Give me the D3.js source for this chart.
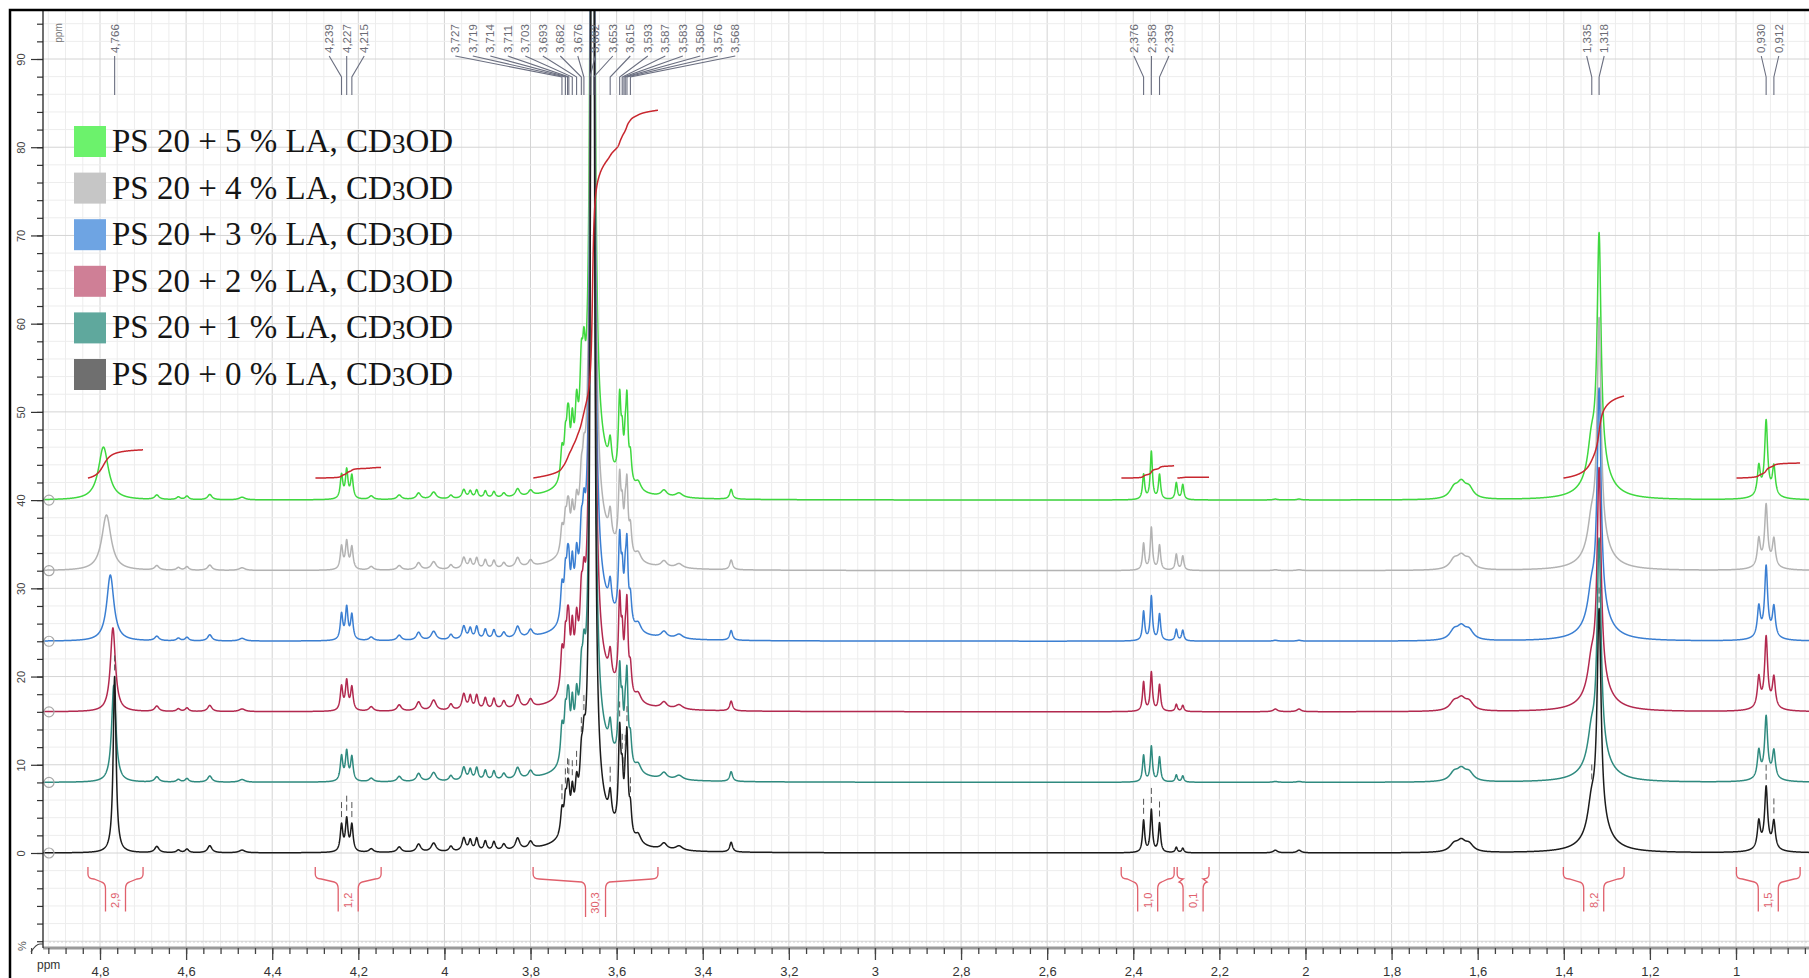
<!DOCTYPE html>
<html>
<head>
<meta charset="utf-8">
<script src="https://cdn.jsdelivr.net/npm/d3@7"></script>
<style>
  html, body { margin: 0; padding: 0; background: #fff; }
  svg { display: block; }
</style>
</head>
<body>
<div id="chart"></div>
<script>
const W = 1809, H = 978;

// ---- data ----
// series order: 0 %, 1 %, 2 %, 3 %, 4 %, 5 % LA
const seriesLA = [0, 1, 2, 3, 4, 5];
const seriesOffsets = [0, 8, 16, 24, 32, 40];

// exchangeable OH signal, moves downfield and broadens with LA
const ohPpm = [4.766, 4.768, 4.770, 4.776, 4.785, 4.792];
const ohHeight = [20, 11, 9.5, 7.5, 6.3, 6];
const ohWidth = [0.004, 0.006, 0.007, 0.010, 0.013, 0.014];

// shared signals: position (ppm), half width (ppm), height per series
const peakPpm = [
  4.668, 4.618, 4.598, 4.545, 4.470,
  4.239, 4.227, 4.215,
  4.170, 4.105, 4.060, 4.025, 3.985, 3.955, 3.940, 3.925, 3.905, 3.885, 3.862, 3.830, 3.800,
  3.727, 3.719, 3.714, 3.711, 3.703, 3.693, 3.682, 3.676,
  3.655, 3.656,
  3.615, 3.593, 3.587, 3.580, 3.576, 3.568, 3.550, 3.490, 3.455, 3.334,
  2.376, 2.358, 2.339, 2.300, 2.285, 2.070, 2.015,
  1.655, 1.638, 1.620,
  1.320, 1.336, 1.318,
  0.947, 0.930, 0.912, 0.930
];
const peakWidth = [
  0.006, 0.005, 0.005, 0.006, 0.008,
  0.0035, 0.0035, 0.0035,
  0.006, 0.006, 0.006, 0.007, 0.005, 0.005, 0.004, 0.004, 0.004, 0.004, 0.005, 0.006, 0.006,
  0.004, 0.0035, 0.003, 0.003, 0.0035, 0.004, 0.004, 0.004,
  0.040, 0.003,
  0.004, 0.0035, 0.003, 0.003, 0.003, 0.0035, 0.008, 0.008, 0.010, 0.004,
  0.003, 0.003, 0.003, 0.003, 0.003, 0.006, 0.006,
  0.012, 0.012, 0.012,
  0.030, 0.010, 0.0055,
  0.004, 0.004, 0.004, 0.020
];
const peakHeights = [
  [0.7, 0.6, 0.6, 0.5, 0.5, 0.5],
  [0.3, 0.3, 0.3, 0.3, 0.3, 0.3],
  [0.4, 0.4, 0.4, 0.4, 0.4, 0.4],
  [0.8, 0.7, 0.7, 0.7, 0.6, 0.6],
  [0.3, 0.3, 0.3, 0.3, 0.3, 0.3],
  [3.0, 2.8, 2.7, 2.9, 2.6, 2.7],
  [3.6, 3.3, 3.3, 3.6, 3.1, 3.2],
  [3.0, 2.7, 2.6, 2.8, 2.5, 2.6],
  [0.4, 0.4, 0.5, 0.4, 0.4, 0.4],
  [0.6, 0.6, 0.7, 0.6, 0.5, 0.5],
  [0.9, 0.9, 1.0, 0.9, 0.8, 0.7],
  [1.0, 1.0, 1.2, 1.0, 0.9, 0.8],
  [0.6, 0.6, 0.7, 0.6, 0.5, 0.4],
  [1.5, 1.5, 1.8, 1.5, 1.3, 1.0],
  [1.2, 1.2, 1.5, 1.2, 1.0, 0.8],
  [1.4, 1.4, 1.6, 1.4, 1.2, 0.9],
  [1.1, 1.1, 1.3, 1.1, 1.0, 0.8],
  [1.0, 1.0, 1.2, 1.0, 0.9, 0.7],
  [0.7, 0.7, 0.9, 0.7, 0.6, 0.5],
  [1.3, 1.3, 1.5, 1.3, 1.1, 0.9],
  [0.8, 0.8, 0.9, 0.8, 0.7, 0.6],
  [2.8, 4.0, 4.5, 4.0, 2.8, 3.5],
  [3.2, 4.5, 5.0, 4.5, 3.2, 4.0],
  [2.8, 4.0, 4.5, 4.0, 2.8, 4.0],
  [2.8, 4.0, 4.5, 4.0, 2.8, 4.0],
  [3.5, 5.0, 5.5, 5.0, 3.5, 5.0],
  [3.5, 5.0, 5.5, 5.0, 3.5, 6.0],
  [4.2, 5.5, 6.0, 5.5, 4.2, 8.0],
  [4.2, 5.5, 5.5, 5.5, 4.2, 7.0],
  [5, 5, 5, 5, 5, 5],
  [260, 260, 260, 260, 260, 260],
  [3.0, 3.0, 3.0, 3.0, 3.0, 3.0],
  [11, 10, 10, 9.0, 8.0, 9.0],
  [5.0, 5.0, 5.0, 4.5, 4.0, 4.0],
  [4.0, 4.0, 4.0, 4.0, 3.5, 3.5],
  [10, 9.0, 9.0, 8.0, 7.0, 8.5],
  [3.0, 3.0, 3.0, 3.0, 3.0, 3.0],
  [1.0, 1.0, 1.0, 1.0, 1.0, 1.0],
  [0.7, 0.7, 0.7, 0.7, 0.7, 0.7],
  [0.5, 0.5, 0.5, 0.5, 0.5, 0.5],
  [1.1, 1.1, 1.1, 1.1, 1.1, 1.1],
  [3.6, 3.0, 3.3, 3.3, 3.0, 2.8],
  [4.8, 4.0, 4.4, 5.0, 4.8, 5.4],
  [3.3, 2.8, 3.0, 3.0, 2.8, 2.8],
  [0.6, 0.8, 0.8, 1.3, 1.8, 1.9],
  [0.5, 0.7, 0.7, 1.2, 1.6, 1.7],
  [0.3, 0.1, 0.3, 0.1, 0.1, 0.1],
  [0.3, 0.1, 0.3, 0.1, 0.1, 0.1],
  [0.8, 0.9, 0.9, 1.0, 1.0, 1.1],
  [1.1, 1.2, 1.2, 1.3, 1.3, 1.6],
  [0.8, 0.9, 0.9, 1.0, 1.0, 1.1],
  [3.0, 3.0, 3.0, 3.0, 3.0, 3.5],
  [3.0, 3.0, 3.0, 3.0, 3.0, 3.5],
  [24, 24, 24, 25, 25, 26],
  [3.0, 3.0, 3.3, 3.3, 3.0, 3.2],
  [6.5, 6.5, 7.5, 7.5, 6.5, 8.0],
  [3.0, 3.0, 3.3, 3.3, 3.0, 3.2],
  [0.8, 0.8, 0.8, 0.8, 0.8, 0.8]
];

// picked peaks printed at the top
const peakLabelGroups = [
  [4.766],
  [4.239, 4.227, 4.215],
  [3.727, 3.719, 3.714, 3.711, 3.703, 3.693, 3.682, 3.676, 3.662, 3.653,
   3.615, 3.593, 3.587, 3.583, 3.580, 3.576, 3.568],
  [2.376, 2.358, 2.339],
  [1.335, 1.318],
  [0.930, 0.912]
];

// integrals (drawn on the 5 % trace) and their bracket values
const integralFrom = [4.828, 4.300, 3.794, 2.428, 2.298, 1.401, 0.999];
const integralTo = [4.700, 4.147, 3.504, 2.305, 2.224, 1.260, 0.851];
const integralValues = [2.9, 1.2, 30.3, 1.0, 0.1, 8.2, 1.5];
const integralStart = [42.5, 42.5, 42.5, 42.5, 42.5, 42.5, 42.5];
const integralEnd = [45.7, 43.7, 84.2, 43.9, 42.6, 51.8, 44.2];

const xTickValues = [4.8, 4.6, 4.4, 4.2, 4, 3.8, 3.6, 3.4, 3.2, 3, 2.8, 2.6, 2.4, 2.2, 2, 1.8, 1.6, 1.4, 1.2, 1, 0.8];
const yTickValues = [0, 10, 20, 30, 40, 50, 60, 70, 80, 90];

// ---- styles ----
const lineColors = ['#1c1c1c', '#2f8a7f', '#b2294f', '#3b7fd2', '#b3b3b3', '#3fd83f'];
const swatchColors = ['#6f6f6f', '#5fa89d', '#cf7f96', '#6ea4e3', '#c6c6c6', '#6cf26c'];
const integralColor = '#c8262e';
const bracketColor = '#e0606c';
const fmt = v => String(v).replace('.', ',');
const fmt3 = v => v.toFixed(3).replace('.', ',');
const fmt1 = v => v.toFixed(1).replace('.', ',');

const plotLeft = 43, plotTop = 10, axisY = 948;

const x = d3.scaleLinear().domain([4.8, 1.0]).range([100, 1736]);
const y = d3.scaleLinear().domain([0, 90]).range([853, 59]);

const svg = d3.select('#chart')
  .append('svg')
  .attr('width', W)
  .attr('height', H)
  .style('font-family', '"Liberation Sans", Arial, sans-serif');

svg.append('defs').append('clipPath')
  .attr('id', 'plot-clip')
  .append('rect')
  .attr('x', plotLeft)
  .attr('y', plotTop)
  .attr('width', W - plotLeft)
  .attr('height', axisY - plotTop);

// grid
const grid = svg.append('g').attr('clip-path', 'url(#plot-clip)');
const minorX = d3.range(80, 500, 4).map(k => k / 100);
const minorY = d3.range(-12, 100, 2);
grid.selectAll('.gx').data(minorX).join('line')
  .attr('x1', d => x(d)).attr('x2', d => x(d))
  .attr('y1', plotTop).attr('y2', axisY)
  .attr('stroke', d => Math.abs(d * 5 - Math.round(d * 5)) < 1e-6 ? '#d4d4d4' : '#ededed')
  .attr('stroke-width', 1);
grid.selectAll('.gy').data(minorY).join('line')
  .attr('x1', plotLeft).attr('x2', W)
  .attr('y1', d => y(d)).attr('y2', d => y(d))
  .attr('stroke', d => d % 10 === 0 ? '#d4d4d4' : '#ededed')
  .attr('stroke-width', 1);

// spectra
function lorentz(p, c, h, w) {
  const d = p - c;
  return h * w * w / (d * d + w * w);
}
function intensity(p, s) {
  let v = lorentz(p, ohPpm[s], ohHeight[s], ohWidth[s]);
  for (let k = 0; k < peakPpm.length; k++) {
    v += lorentz(p, peakPpm[k], peakHeights[k][s], peakWidth[k]);
  }
  return v;
}
const ppmGrid = d3.range(0, 10501).map(j => 4.98 - j * 0.0004);

const spectra = seriesLA.map((la, s) =>
  ppmGrid.map(p => [p, intensity(p, s) + seriesOffsets[s]]));

const line = d3.line().x(d => x(d[0])).y(d => y(d[1]));

const specG = svg.append('g').attr('clip-path', 'url(#plot-clip)');
[5, 4, 3, 2, 1, 0].forEach(s => {
  specG.append('path')
    .datum(spectra[s])
    .attr('d', line)
    .attr('fill', 'none')
    .attr('stroke', lineColors[s])
    .attr('stroke-width', 1.5)
    .attr('stroke-linejoin', 'round');
});

// baseline markers
svg.selectAll('.base-mark').data(seriesOffsets).join('circle')
  .attr('cx', 49).attr('cy', d => y(d)).attr('r', 5)
  .attr('fill', 'none').attr('stroke', '#a8a8a8').attr('stroke-width', 1.2);

// integral curves on the 5 % trace
const integralG = svg.append('g').attr('clip-path', 'url(#plot-clip)');
integralFrom.forEach((a, i) => {
  const b = integralTo[i];
  const pts = ppmGrid.filter(p => p <= a && p >= b);
  let acc = 0;
  const cum = pts.map((p, j) => {
    if (j > 0) acc += intensity(p, 5) + intensity(pts[j - 1], 5);
    return acc;
  });
  const total = acc || 1;
  const data = pts.map((p, j) => [p, integralStart[i] + (integralEnd[i] - integralStart[i]) * cum[j] / total]);
  integralG.append('path')
    .datum(data)
    .attr('d', line)
    .attr('fill', 'none')
    .attr('stroke', integralColor)
    .attr('stroke-width', 1.5);
});

// integral brackets under the spectra
const bracketG = svg.append('g');
integralFrom.forEach((a, i) => {
  const x1 = x(a), x2 = x(integralTo[i]);
  const xm = (x1 + x2) / 2;
  const label = fmt1(integralValues[i]);
  const stemBottom = 891 + label.length * 5.5 + 4;
  const path = `M${x1},867 V874 Q${x1},879 ${x1 + 6},879 L${xm - 14},882 Q${xm - 10},883 ${xm - 10},889 V${stemBottom}`
    + ` M${x2},867 V874 Q${x2},879 ${x2 - 6},879 L${xm + 14},882 Q${xm + 10},883 ${xm + 10},889 V${stemBottom}`;
  bracketG.append('path')
    .attr('d', path)
    .attr('fill', 'none')
    .attr('stroke', bracketColor)
    .attr('stroke-width', 1.3);
  bracketG.append('text')
    .attr('transform', `translate(${xm},${(889 + stemBottom) / 2}) rotate(-90)`)
    .attr('text-anchor', 'middle')
    .attr('dy', '0.35em')
    .attr('font-size', 11)
    .attr('fill', bracketColor)
    .text(label);
});

// peak labels at the top
const labelG = svg.append('g');
const labelStep = 17.5;
peakLabelGroups.forEach(group => {
  const cx = d3.mean(group, p => x(p));
  group.forEach((p, j) => {
    const lx = cx + (j - (group.length - 1) / 2) * labelStep;
    const px = x(p);
    labelG.append('text')
      .attr('transform', `translate(${lx},53) rotate(-90)`)
      .attr('dy', '0.35em')
      .attr('font-size', 11.5)
      .attr('fill', '#6b6b74')
      .text(fmt3(p));
    labelG.append('path')
      .attr('d', `M${lx},56 L${px},77 L${px},95`)
      .attr('fill', 'none')
      .attr('stroke', '#6b6f80')
      .attr('stroke-width', 1.1);
    // pick marker above the 0 % trace
    const v = intensity(p, 0);
    if (v < 45) {
      labelG.append('line')
        .attr('x1', px).attr('x2', px)
        .attr('y1', y(v) - 6).attr('y2', y(v) - 22)
        .attr('stroke', '#555')
        .attr('stroke-width', 1)
        .attr('stroke-dasharray', '6,3');
    }
  });
});

// x axis
svg.append('line')
  .attr('x1', plotLeft).attr('x2', W)
  .attr('y1', axisY).attr('y2', axisY)
  .attr('stroke', '#9a9a9a').attr('stroke-width', 3);
svg.append('line')
  .attr('x1', plotLeft + 6).attr('x2', W)
  .attr('y1', axisY - 6).attr('y2', axisY - 6)
  .attr('stroke', '#cfcfcf').attr('stroke-width', 1)
  .attr('stroke-dasharray', '2,2');

const xMinor = svg.append('g')
  .attr('transform', `translate(0,${axisY})`)
  .call(d3.axisBottom(x).tickValues(d3.range(84, 500, 4).map(k => k / 100)).tickSize(6).tickFormat(''));
const xMajor = svg.append('g')
  .attr('transform', `translate(0,${axisY})`)
  .call(d3.axisBottom(x).tickValues(xTickValues).tickSize(12).tickPadding(7).tickFormat(fmt));
[xMinor, xMajor].forEach(g => {
  g.select('.domain').remove();
  g.selectAll('line').attr('stroke', '#444').attr('stroke-width', 1.3);
});
xMajor.selectAll('text')
  .attr('font-size', 13)
  .attr('font-family', '"Liberation Sans", Arial, sans-serif')
  .attr('fill', '#333');
svg.append('text')
  .attr('x', 37).attr('y', 969)
  .attr('font-size', 12)
  .attr('fill', '#333')
  .text('ppm');

// y axis
const yMinor = svg.append('g')
  .attr('transform', `translate(${plotLeft},0)`)
  .call(d3.axisLeft(y).tickValues(d3.range(-10, 96, 2)).tickSize(6).tickFormat(''));
const yMajor = svg.append('g')
  .attr('transform', `translate(${plotLeft},0)`)
  .call(d3.axisLeft(y).tickValues(yTickValues).tickSize(12).tickFormat(d3.format('d')));
yMinor.select('.domain').remove();
yMajor.select('.domain').remove();
[yMinor, yMajor].forEach(g => g.selectAll('line').attr('stroke', '#333').attr('stroke-width', 1.2));
yMajor.selectAll('text')
  .attr('transform', 'rotate(-90)')
  .attr('x', 0)
  .attr('y', -22)
  .attr('dy', '0.35em')
  .attr('text-anchor', 'middle')
  .attr('font-size', 11)
  .attr('font-family', '"Liberation Sans", Arial, sans-serif')
  .attr('fill', '#444');
svg.append('line')
  .attr('x1', plotLeft).attr('x2', plotLeft)
  .attr('y1', plotTop).attr('y2', axisY)
  .attr('stroke', '#222').attr('stroke-width', 1.3);

svg.append('text')
  .attr('transform', 'translate(58,33) rotate(-90)')
  .attr('text-anchor', 'middle')
  .attr('dy', '0.35em')
  .attr('font-size', 10)
  .attr('fill', '#777')
  .text('ppm');
svg.append('text')
  .attr('transform', 'translate(22,946) rotate(-90)')
  .attr('text-anchor', 'middle')
  .attr('dy', '0.35em')
  .attr('font-size', 11)
  .attr('fill', '#555')
  .text('%');
svg.append('path')
  .attr('d', 'M31,952 Q36,944 40,944 L43,944')
  .attr('fill', 'none')
  .attr('stroke', '#444')
  .attr('stroke-width', 1.2);

// legend
const legendOrder = [5, 4, 3, 2, 1, 0];
const legend = svg.append('g')
  .style('font-family', '"Liberation Serif", "Times New Roman", serif');
legendOrder.forEach((s, r) => {
  const cy = 141 + r * 46.6;
  legend.append('rect')
    .attr('x', 74).attr('y', cy - 15)
    .attr('width', 32).attr('height', 31)
    .attr('fill', swatchColors[s]);
  const t = legend.append('text')
    .attr('x', 112).attr('y', cy + 11)
    .attr('font-size', 33)
    .attr('fill', '#151515');
  t.append('tspan').text(`PS 20 + ${seriesLA[s]} % LA, CD`);
  t.append('tspan').attr('font-size', 27).attr('dy', 1).text('3');
  t.append('tspan').attr('dy', -1).text('OD');
});

// frame
svg.append('rect')
  .attr('x', 10).attr('y', 10)
  .attr('width', W + 20).attr('height', H + 20)
  .attr('fill', 'none')
  .attr('stroke', '#000')
  .attr('stroke-width', 2.5);
</script>
</body>
</html>
